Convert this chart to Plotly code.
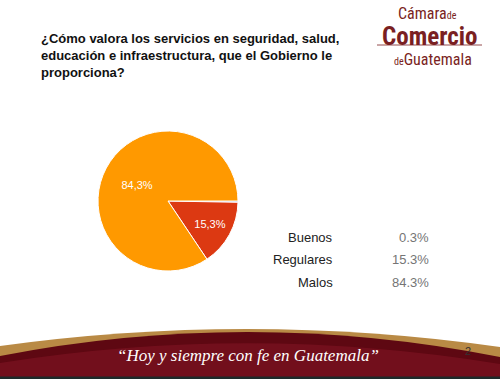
import plotly.graph_objects as go

# ---- data ----
categories = ["Buenos", "Regulares", "Malos"]
values = [0.3, 15.3, 84.3]
colors = ["#3366cc", "#dc3912", "#ff9900"]
title_text = "¿Cómo valora los servicios en seguridad, salud,<br>educación e infraestructura, que el Gobierno le<br>proporciona?"
slogan = "“Hoy y siempre con fe en Guatemala”"
page_no = "2"

W, H = 500, 379

def X(px):
    return px / W

def Y(py):
    return 1 - py / H

def P(x, y):
    return f"{X(x):.5f},{Y(y):.5f}"

pie_text = [f"{v:.1f}%".replace(".", ",") if v >= 1 else "" for v in values]

fig = go.Figure()
fig.add_trace(go.Pie(
    labels=categories,
    values=values,
    text=pie_text,
    textinfo="text",
    textposition="inside",
    insidetextorientation="horizontal",
    textfont=dict(family="Liberation Sans, Arial", size=11, color="white"),
    marker=dict(colors=colors, line=dict(color="white", width=1)),
    sort=False,
    direction="clockwise",
    rotation=90,
    showlegend=False,
    hoverinfo="label+percent",
    domain=dict(x=[X(98), X(238)], y=[Y(271), Y(131)]),
))

shapes = []
# bottom banner: gold band
shapes.append(dict(
    type="path", xref="paper", yref="paper",
    path=f"M {P(0,346)} Q {P(250,311.5)} {P(500,347)} L {P(500,379)} L {P(0,379)} Z",
    fillcolor="#b98a45", line=dict(width=0), layer="above"))
# red body
shapes.append(dict(
    type="path", xref="paper", yref="paper",
    path=f"M {P(0,356)} Q {P(250,307.5)} {P(500,357)} L {P(500,379)} L {P(0,379)} Z",
    fillcolor="#5e0812", line=dict(width=0), layer="above"))
# lighter lower band
shapes.append(dict(
    type="path", xref="paper", yref="paper",
    path=f"M {P(0,363)} Q {P(250,323)} {P(500,364)} L {P(500,379)} L {P(0,379)} Z",
    fillcolor="#7a1120", opacity=0.75, line=dict(width=0), layer="above"))
# dark bottom strip
shapes.append(dict(
    type="rect", xref="paper", yref="paper",
    x0=0, x1=1, y0=Y(379), y1=Y(376.5),
    fillcolor="#1e2a2a", line=dict(width=0), layer="above"))
# logo underline
shapes.append(dict(
    type="line", xref="paper", yref="paper",
    x0=X(377), x1=X(482), y0=Y(45), y1=Y(45),
    line=dict(color="#7a1f22", width=0.8), layer="above"))

annotations = []
annotations.append(dict(
    text=f"<b>{title_text}</b>", xref="paper", yref="paper",
    x=X(39), y=Y(29), xanchor="left", yanchor="top", align="left", showarrow=False,
    font=dict(family="Liberation Sans, Arial", size=13, color="#111111")))

# value table
row_y = [237, 259.5, 282]
for cat, v, ry in zip(categories, values, row_y):
    annotations.append(dict(
        text=cat, xref="paper", yref="paper", x=X(335), y=Y(ry),
        xanchor="right", yanchor="middle", showarrow=False,
        font=dict(family="Liberation Sans, Arial", size=13, color="#222222")))
    annotations.append(dict(
        text=f"{v:.1f}%", xref="paper", yref="paper", x=X(431), y=Y(ry),
        xanchor="right", yanchor="middle", showarrow=False,
        font=dict(family="Liberation Sans, Arial", size=13, color="#757575")))

# logo: three stacked words, boxes kept apart
logo_col = "#7a1f22"
cond = "Liberation Sans Narrow, Arial Narrow, Roboto Condensed, Liberation Sans"
annotations.append(dict(
    text="Cámara<span style='font-size:10px'>de</span>", xref="paper", yref="paper",
    x=X(397), y=Y(2.5), xanchor="left", yanchor="top", showarrow=False,
    borderpad=0, font=dict(family=cond, size=16, color=logo_col)))
annotations.append(dict(
    text="<b>Comercio</b>", xref="paper", yref="paper",
    x=X(429), y=Y(20.6), xanchor="center", yanchor="top", showarrow=False,
    borderpad=0, font=dict(family=cond, size=25, color=logo_col)))
annotations.append(dict(
    text="<span style='font-size:10px'>de</span>Guatemala", xref="paper", yref="paper",
    x=X(393), y=Y(48.8), xanchor="left", yanchor="top", showarrow=False,
    borderpad=0, font=dict(family=cond, size=16, color=logo_col)))

# slogan and page number
annotations.append(dict(
    text=f"<i>{slogan}</i>", xref="paper", yref="paper", x=X(248), y=Y(355),
    xanchor="center", yanchor="middle", showarrow=False,
    font=dict(family="Liberation Serif, DejaVu Serif", size=17, color="white")))
annotations.append(dict(
    text=page_no, xref="paper", yref="paper", x=X(468), y=Y(351),
    xanchor="center", yanchor="middle", showarrow=False,
    font=dict(family="Liberation Sans, Arial", size=11, color="#333333")))

fig.update_layout(
    width=W, height=H, autosize=False,
    margin=dict(l=0, r=0, t=0, b=0),
    paper_bgcolor="white", plot_bgcolor="white",
    shapes=shapes, annotations=annotations,
)

fig.write_html(
    "out.html",
    config={"displayModeBar": False},
    post_script="document.body.style.margin='0';document.body.style.overflow='hidden';",
)
